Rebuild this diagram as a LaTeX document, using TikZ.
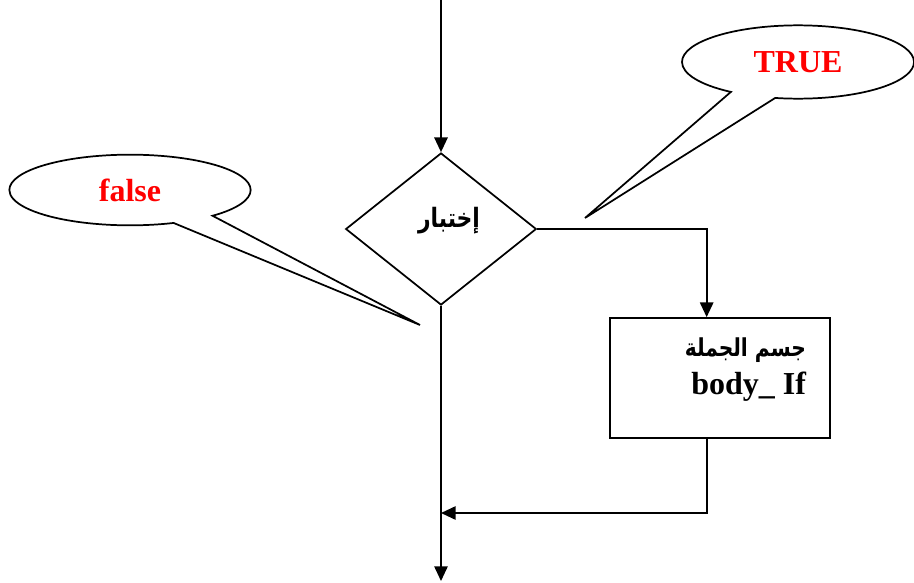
\documentclass[tikz,border=0pt]{standalone}
\usepackage{fontspec}
\setmainfont{Liberation Serif}
\newfontfamily\arabicfont[Script=Arabic,FakeStretch=0.82]{DejaVu Sans}
\TeXXeTstate=1
\usetikzlibrary{arrows.meta,shapes.geometric,shapes.callouts}

\begin{document}
\begin{tikzpicture}[
  x=0.75pt, y=-0.75pt,
  line width=1.3pt,
  every node/.style={inner sep=0pt},
  arr/.style={draw, -{Triangle[length=11pt,width=10pt]}},
  decision/.style={draw, diamond, aspect=1.26, minimum width=143pt, minimum height=114pt},
  block/.style={draw, rectangle, minimum width=165pt, minimum height=90pt},
  note/.style={draw, ellipse callout, callout pointer arc=22, text=red, font=\bfseries\fontsize{24}{28}\selectfont},
  arlabel/.style={font=\arabicfont\bfseries\fontsize{20}{24}\selectfont}
]
\useasboundingbox (0,0) rectangle (914,582);

% Decision node
\node[decision] (test) at (441,229) {};
\node[arlabel] (testlbl) at ([xshift=6pt,yshift=6pt]test.center) {\beginR إختبار\endR};

% Body of the if
\node[block] (body) at (720,378) {};
\node[anchor=north east, align=right, font=\bfseries\fontsize{24}{28}\selectfont] (bodylbl)
  at ([xshift=-18pt,yshift=-15pt]body.north east)
  {{\arabicfont\fontsize{18.5}{24}\selectfont\beginR جسم الجملة\endR}\\body\_ If};

% Callouts
\node[note, minimum width=181pt, minimum height=53pt,
  callout absolute pointer={(420,325)}] (falsenote) at (130,190) {false};
\node[note, minimum width=174pt, minimum height=55pt, callout pointer arc=24,
  callout absolute pointer={(585,218)}] (truenote) at (798,62) {TRUE};

% Flow lines
\coordinate (start) at (441,0);
\coordinate (join) at (441,513);
\coordinate (stop) at (441,581);
\draw[arr] (start) -- (test.north);
\draw[arr] (test.east) -| ([xshift=-10pt]body.north);
\draw[arr] ([xshift=-10pt]body.south) |- (join);
\draw[arr] (test.south) -- (stop);
\end{tikzpicture}
\end{document}
